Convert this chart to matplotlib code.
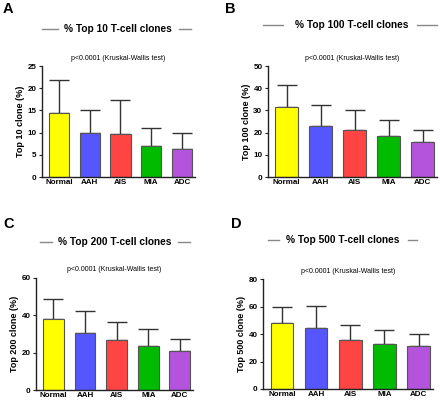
import matplotlib.pyplot as plt
from matplotlib.lines import Line2D

plt.rcParams['font.family'] = ['Liberation Sans', 'DejaVu Sans']

groups = ["Normal", "AAH", "AIS", "MIA", "ADC"]
colors = ["#ffff00", "#5656ff", "#ff4444", "#00bb00", "#b453db"]

top10_mean = [14.5, 9.9, 9.7, 7.1, 6.4]
top10_err = [7.3, 5.1, 7.7, 3.9, 3.6]
top100_mean = [31.4, 22.9, 21.4, 18.4, 15.9]
top100_err = [10.2, 9.6, 8.8, 7.5, 5.4]
top200_mean = [37.8, 30.5, 26.5, 23.7, 20.8]
top200_err = [10.8, 11.8, 9.9, 8.7, 6.3]
top500_mean = [47.7, 44.1, 35.7, 32.5, 31.6]
top500_err = [11.8, 16.1, 10.6, 10.4, 8.6]

panels = [
    ("A", "% Top 10 T-cell clones", "Top 10 clone (%)", top10_mean, top10_err, 25, 5,
     [0.0955, 0.5586, 0.3475, 0.2764]),
    ("B", "% Top 100 T-cell clones", "Top 100 clone (%)", top100_mean, top100_err, 50, 10,
     [0.609, 0.5586, 0.384, 0.2764]),
    ("C", "% Top 200 T-cell clones", "Top 200 clone (%)", top200_mean, top200_err, 60, 20,
     [0.082, 0.0274, 0.357, 0.2796]),
    ("D", "% Top 500 T-cell clones", "Top 500 clone (%)", top500_mean, top500_err, 80, 20,
     [0.598, 0.030, 0.386, 0.274]),
]

# title / decoration positions in pixels (line x0-x1, text center, line x2-x3, y, letter x, letter y)
title_pos = [
    (42, 58, 118, 179, 191, 29, 3, 9),
    (263, 283, 352, 417, 437, 25, 225, 9),
    (40, 52, 115, 178, 190, 242, 3, 224),
    (268, 279, 343, 408, 417, 240, 231, 224),
]

W, H = 440, 401
fig = plt.figure(figsize=(4.4, 4.01), dpi=100)

for (letter, title, ylabel, mean, err, ymax, step, rect), tp in zip(panels, title_pos):
    ax = fig.add_axes(rect)
    x = range(len(groups))
    ax.bar(x, mean, width=0.66, color=colors, edgecolor="#555555", linewidth=0.8, zorder=2)
    ax.errorbar(x, mean, yerr=[[0] * len(err), err], fmt="none", ecolor="#333333",
                elinewidth=1.0, capsize=7, capthick=1.0, zorder=1)
    ax.set_ylim(0, ymax)
    ax.set_xlim(-0.55, 4.42)
    ax.set_yticks(range(0, ymax + 1, step))
    ax.set_xticks(list(x))
    ax.set_xticklabels(groups, fontweight="bold", fontsize=5.8)
    for lab in ax.get_yticklabels():
        lab.set_fontweight("bold")
        lab.set_fontsize(5.8)
    ax.set_ylabel(ylabel, fontweight="bold", fontsize=6.5, labelpad=2)
    for s in ["top", "right"]:
        ax.spines[s].set_visible(False)
    for s in ["left", "bottom"]:
        ax.spines[s].set_linewidth(1.0)
        ax.spines[s].set_color("#222222")
    ax.tick_params(axis="both", length=2.5, width=0.8, pad=1.5, color="#222222")
    ax.tick_params(axis="x", length=0)
    ax.text(0.5, 1.04, "p<0.0001 (Kruskal-Wallis test)", transform=ax.transAxes,
            ha="center", va="bottom", fontsize=5)

    x0, x1, xc, x2, x3, y, lx, ly = tp
    yf = 1 - y / H
    fig.add_artist(Line2D([x0 / W, x1 / W], [yf, yf], color="#888888", lw=1.0))
    fig.add_artist(Line2D([x2 / W, x3 / W], [yf, yf], color="#888888", lw=1.0))
    fig.text(xc / W, yf, title, ha="center", va="center", fontsize=7.3, fontweight="bold")
    fig.text(lx / W, 1 - ly / H, letter, ha="left", va="center", fontsize=10.5, fontweight="bold")

fig.savefig("out.png", dpi=100)
